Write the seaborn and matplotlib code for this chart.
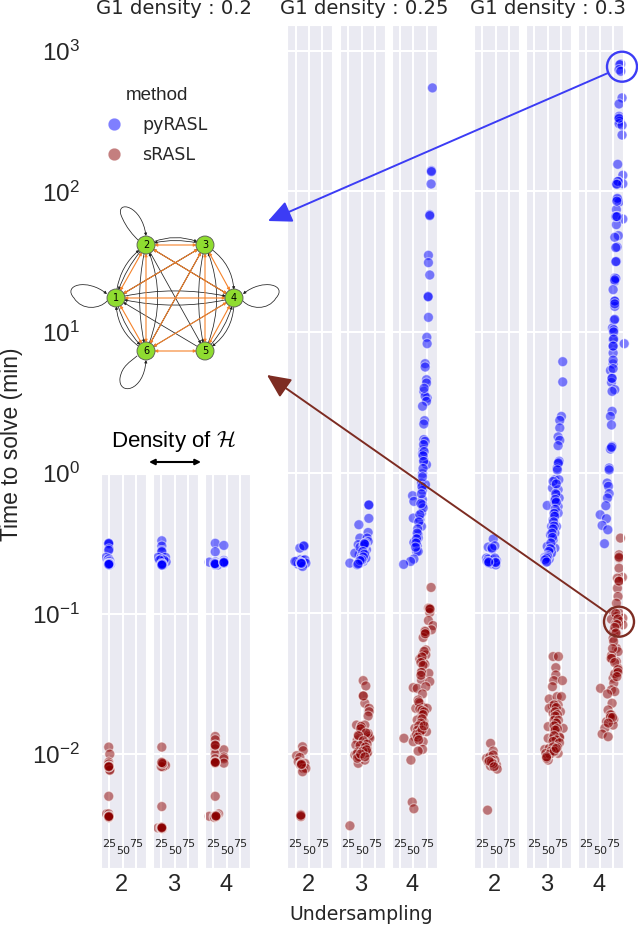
import numpy as np
import pandas as pd
import matplotlib
matplotlib.use("Agg")
import matplotlib.pyplot as plt
import seaborn as sns
from matplotlib.lines import Line2D
from matplotlib.patches import Circle, FancyArrowPatch
from matplotlib.path import Path

# density of H / log10(minutes), one pair of lists per group
a2_py_d = [24, 24, 24, 24.5, 24, 19, 22, 24, 26, 24, 24, 25, 25, 23, 27, 25, 24.5, 24.5, 25, 24]
a2_py_t = [-0.50, -0.505, -0.50, -0.54, -0.55, -0.60, -0.62, -0.61, -0.625, -0.63, -0.64, -0.645, -0.65, -0.65, -0.65, -0.655, -0.645, -0.65, -0.645, -0.65]
a2_sr_d = [24, 26, 24, 24, 25, 25, 26, 26, 24, 20, 24, 24.5, 24.5, 24, 24.5, 24.5, 24, 24.5, 24.5, 24]
a2_sr_t = [-1.95, -2.0, -2.057, -2.07, -2.088, -2.09, -2.11, -2.115, -2.30, -2.425, -2.425, -2.444, -2.45, -2.45, -2.09, -2.085, -2.09, -2.445, -2.44, -2.445]
a3_py_d = [26, 26, 26, 26, 19, 33, 25, 34, 27, 27, 28, 30, 22, 26, 26, 27, 26]
a3_py_t = [-0.482, -0.52, -0.553, -0.56, -0.60, -0.60, -0.612, -0.632, -0.645, -0.655, -0.655, -0.62, -0.62, -0.65, -0.645, -0.65, -0.655]
a3_sr_d = [26, 26, 31, 33, 28, 25, 26, 19, 26, 24, 27, 26, 26, 26, 27, 28, 26]
a3_sr_t = [-1.95, -2.057, -2.07, -2.08, -2.09, -2.088, -2.373, -2.525, -2.52, -2.525, -2.53, -2.525, -2.52, -2.525, -2.07, -2.065, -2.06]
a4_py_d = [28.7, 28.7, 28.7, 28.7, 28.7, 28.7, 44.7, 44.7, 44.7, 44.7, 17.6, 33, 27, 28.7, 28.7, 29, 28, 44.7, 44.7, 44.7]
a4_py_t = [-0.50, -0.56, -0.632, -0.644, -0.65, -0.655, -0.515, -0.622, -0.632, -0.64, -0.634, -0.655, -0.64, -0.65, -0.645, -0.65, -0.645, -0.635, -0.64, -0.635]
a4_sr_d = [28.7, 28.7, 28.7, 28.7, 28.7, 28.7, 28.7, 28.7, 28.7, 44.7, 44.7, 44.7, 44.7, 17.6, 35, 27, 27, 32, 28.7, 28.7, 28.7, 28.7, 28.7, 30, 30, 30]
a4_sr_t = [-1.874, -1.898, -1.938, -1.962, -1.998, -2.033, -2.057, -2.064, -2.30, -1.969, -2.021, -2.033, -2.064, -2.442, -2.425, -2.442, -2.45, -2.435, -2.06, -2.055, -2.06, -1.94, -1.935, -2.44, -2.445, -2.44]

b2_py_d = [40.4, 33, 26.9, 34.3, 39.2, 36.1, 42.3, 29.9, 36.1, 44.1, 34.3, 23.8, 38, 35, 35, 36, 40.4]
b2_py_t = [-0.524, -0.536, -0.631, -0.619, -0.624, -0.643, -0.619, -0.65, -0.655, -0.643, -0.637, -0.631, -0.667, -0.645, -0.64, -0.645, -0.52]
b2_sr_d = [38, 39.2, 26.9, 33, 29.9, 36.1, 42.3, 34.3, 39.2, 44.1, 38, 34.9, 34.9, 34.9, 36, 36, 34.9]
b2_sr_t = [-1.948, -1.976, -2.012, -2.024, -2.055, -2.066, -2.066, -2.078, -2.102, -2.102, -2.126, -2.43, -2.44, -2.445, -2.07, -2.075, -2.435]
b3_py_d = [63.3, 63.3, 44.7, 62, 46.6, 60.2, 55.9, 43.5, 62, 49.7, 59, 55.9, 49.7, 46.6, 51.5, 28, 41.7, 46.6, 52.8, 57.7, 45.4, 37.3, 47, 54, 50,
           63.3, 57, 56, 55, 52, 48, 51, 55, 46, 49, 44, 53, 50, 47, 43]
b3_py_t = [-0.228, -0.325, -0.37, -0.425, -0.465, -0.465, -0.505, -0.512, -0.489, -0.548, -0.548, -0.572, -0.60, -0.619, -0.614, -0.643, -0.655, -0.643, -0.631, -0.607, -0.584, -0.572, -0.53, -0.52, -0.59,
           -0.23, -0.5, -0.51, -0.505, -0.56, -0.61, -0.62, -0.58, -0.635, -0.63, -0.645, -0.6, -0.62, -0.625, -0.65]
b3_sr_d = [52.8, 57.7, 52.8, 55.9, 63.9, 63.9, 62, 40.4, 49.7, 55.9, 48.4, 55.9, 63.9, 41.7, 52.8, 65.1, 46.6, 60.2, 37.3, 42.3, 49.7, 59, 43.5, 55.9, 39.2, 52.8, 46.6, 62, 43.5, 28.1,
           53, 49, 48, 58, 44, 53, 60, 47, 57, 43, 41, 50, 54, 61, 45, 52, 59, 42, 48, 56]
b3_sr_t = [-1.478, -1.516, -1.587, -1.639, -1.675, -1.699, -1.73, -1.794, -1.80, -1.794, -1.841, -1.865, -1.876, -1.90, -1.912, -1.888, -1.96, -1.96, -2.007, -2.012, -1.995, -1.995, -2.066, -2.043, -1.936, -1.971, -2.019, -1.853, -1.865, -2.51,
           -1.587, -1.805, -1.82, -1.85, -1.87, -1.905, -1.93, -1.94, -1.95, -1.985, -2.0, -2.01, -2.0, -1.99, -2.02, -1.98, -1.97, -2.03, -2.0, -2.02]
b4_py_d = [85.5, 83.6, 83.6, 83, 80.5, 80.5, 78, 78, 80.5, 77.5, 77.5, 78, 75, 75.6, 71.9, 71.9, 74.4, 74.4, 69.4, 75.6, 71.9, 74.4, 67, 70.7, 69.4, 69.4, 71.9, 68.2, 67, 69.4, 74.4,
           67, 65, 72.5, 67, 48.4, 50.9, 67, 67, 65, 49.7, 62, 65, 58.9, 55.9, 50.9, 57, 55.9, 58.9, 50.9, 44.7, 31.8, 68.2, 62, 58.9,
           69, 70, 68, 69, 68, 67, 66, 65, 64, 60, 58, 57, 56, 55, 54, 70]
b4_py_t = [2.735, 2.147, 2.14, 2.052, 1.834, 1.827, 1.545, 1.493, 1.405, 1.254, 1.25, 1.104, 0.962, 0.917, 0.775, 0.751, 0.661, 0.637, 0.578, 0.531, 0.543, 0.507, 0.472, 0.37, 0.346, 0.235, 0.223, 0.164, 0.135, 0.092, 0.057,
           -0.007, -0.074, -0.085, -0.126, -0.164, -0.204, -0.192, -0.228, -0.287, -0.323, -0.335, -0.382, -0.441, -0.489, -0.496, -0.52, -0.56, -0.56, -0.614, -0.631, -0.652, -0.251, -0.299, -0.465,
           0.2, 0.15, 0.12, 0.08, 0.03, -0.03, -0.1, -0.15, -0.22, -0.35, -0.4, -0.43, -0.47, -0.5, -0.53, 0.6]
b4_sr_d = [83, 80.5, 78, 80.5, 78, 86.7, 83.6, 71.3, 73.1, 68.2, 73.1, 67, 73.1, 62, 68.2, 71.3, 65, 78.7, 65, 80.5, 49.7, 57.1, 73.1, 67, 58.9, 62, 54.6, 68.2, 75.6, 65, 57.1, 69.4, 52.8, 62, 74.4, 68.2, 52.8, 32.4, 49.7, 68.2, 67, 58.9, 45.4, 47.8, 50.9,
           80, 81, 72, 72, 70, 66, 64, 68, 65, 64, 60, 62, 66, 70, 68, 66, 64, 60, 58, 56, 62, 66, 70, 58, 60]
b4_sr_t = [-0.816, -0.963, -0.963, -0.994, -1.051, -1.087, -1.117, -1.125, -1.141, -1.172, -1.26, -1.295, -1.295, -1.324, -1.343, -1.362, -1.414, -1.426, -1.473, -1.485, -1.528, -1.533, -1.521, -1.573, -1.616, -1.639, -1.675, -1.668, -1.675, -1.722, -1.758, -1.77, -1.817, -1.841, -1.841, -1.782, -1.877, -1.888, -1.912, -1.912, -1.967, -1.979, -2.043, -2.342, -2.389,
           -0.965, -0.97, -1.13, -1.145, -1.27, -1.31, -1.35, -1.37, -1.42, -1.44, -1.63, -1.68, -1.69, -1.7, -1.72, -1.75, -1.78, -1.8, -1.83, -1.86, -1.85, -1.83, -1.8, -1.88, -1.9]

c2_py_d = [45.4, 36.1, 43.5, 48.4, 33, 37.3, 51.5, 45.4, 42.3, 36.1, 50.3, 34.3, 48.4, 43, 37, 50, 50, 37]
c2_py_t = [-0.472, -0.529, -0.543, -0.52, -0.607, -0.643, -0.624, -0.619, -0.648, -0.614, -0.655, -0.631, -0.607, -0.535, -0.64, -0.635, -0.64, -0.635]
c2_sr_d = [40.4, 45.4, 33, 39.2, 45.4, 36.1, 45.4, 51.5, 40.4, 52.8, 48.4, 42.3, 34.9, 45, 45, 42, 38, 47]
c2_sr_t = [-1.924, -1.979, -2.031, -2.019, -2.007, -2.055, -2.066, -2.078, -2.085, -2.107, -2.043, -2.043, -2.399, -2.065, -2.07, -2.06, -2.05, -2.09]
c3_py_d = [78, 78, 75.6, 72.5, 72.5, 69.4, 72.5, 69.4, 71.3, 69.4, 67.6,
           63.3, 70.7, 58.9, 69.4, 66.3, 71.3, 65.1, 69.4, 49.1, 63.3, 69.4, 60.2, 66.3, 57.1, 63.3, 55.2, 60.2, 49.1, 63.3, 57.1, 54, 49.1, 44.7, 49.1, 44.7, 52.8, 57.1, 63.3, 60.2,
           70, 68, 66, 65, 64, 66, 64, 62, 63, 61, 62, 60, 58, 59, 56, 55, 52, 50, 47, 46, 47, 50, 48, 45, 48]
c3_py_t = [0.789, 0.645, 0.40, 0.372, 0.318, 0.254, 0.23, 0.192, 0.081, 0.064, 0.033,
           -0.05, -0.05, -0.109, -0.121, -0.157, -0.18, -0.204, -0.24, -0.233, -0.287, -0.287, -0.335, -0.382, -0.382, -0.429, -0.441, -0.477, -0.524, -0.536, -0.548, -0.584, -0.607, -0.619, -0.631, -0.60, -0.614, -0.572, -0.204, -0.062,
           0.07, 0.02, -0.08, -0.15, -0.19, -0.21, -0.26, -0.29, -0.31, -0.35, -0.38, -0.4, -0.43, -0.46, -0.5, -0.54, -0.56, -0.59, -0.6, -0.615, -0.625, -0.6, -0.61, -0.62, -0.635]
c3_sr_d = [60.2, 70, 65.1, 65.1, 61.4, 77.4, 58.9, 52.8, 67.6, 75.6, 58.9, 52.8, 69.4, 73.7, 60.2, 65.1, 66.3, 50.9, 63.3, 78.7, 63.3, 50.9, 60.2, 72.5, 66.3, 44.7, 52.8, 69.4, 63.3, 47.8, 50.9, 57.1, 46.6,
           62, 66, 64, 68, 64, 62, 70, 66, 62, 68, 64, 72, 62, 66, 60, 72, 68, 64, 60, 56, 54, 48, 62, 66, 48]
c3_sr_t = [-1.307, -1.307, -1.386, -1.438, -1.478, -1.478, -1.521, -1.609, -1.592, -1.592, -1.658, -1.675, -1.651, -1.699, -1.711, -1.746, -1.782, -1.805, -1.817, -1.817, -1.841, -1.888, -1.888, -1.884, -1.936, -1.967, -1.96, -1.995, -1.983, -2.024, -2.043, -1.995, -1.995,
           -1.65, -1.67, -1.7, -1.72, -1.73, -1.76, -1.76, -1.78, -1.8, -1.82, -1.83, -1.88, -1.87, -1.9, -1.91, -1.92, -1.95, -1.97, -1.95, -1.98, -2.0, -2.03, -1.98, -1.96, -2.02]
c4_py_d = [89.2, 87.3, 86.1, 89.2, 91.6, 86.1, 86.1, 86.1, 87.3, 86.1, 91.6, 91.6, 83.6, 93, 84.2, 81.1, 93, 82.4, 86.1, 81.1, 82.4, 93, 81.1, 84.8, 78.1, 82.4, 81.1, 78.1, 78.1, 75, 78.1, 78.1, 76.8, 73.7, 76.1, 75, 75, 95.6, 75, 75, 70, 73.1, 71.9, 78.1, 73.1, 73.1, 70, 71.9, 73.1, 70, 67.6,
           67.6, 63.9, 66.3, 67.6, 64.5, 61.4, 50.9, 62.6, 54.6, 65.1, 58.9,
           86, 84, 82, 83, 82, 80, 82, 80, 80, 80, 78, 78, 78, 78, 76, 76, 75, 75, 75, 73, 72]
c4_py_t = [2.905, 2.9, 2.865, 2.853, 2.664, 2.621, 2.533, 2.514, 2.498, 2.481, 2.469, 2.40, 2.192, 2.114, 2.071, 2.054, 2.054, 1.941, 1.924, 1.87, 1.822, 1.803, 1.763, 1.685, 1.673, 1.604, 1.502, 1.384, 1.36, 1.301, 1.218, 1.182, 1.083, 1.028, 1.016, 0.945, 0.898, 0.917, 0.851, 0.773, 0.727, 0.673, 0.642, 0.59, 0.578, 0.436, 0.40, 0.339, 0.187, 0.168, 0.033,
           0.02, -0.074, -0.097, -0.149, -0.18, -0.235, -0.299, -0.327, -0.375, -0.406, -0.505,
           2.52, 2.07, 2.05, 1.95, 1.93, 1.82, 1.82, 1.6, 1.5, 1.38, 1.37, 1.22, 1.2, 1.09, 1.0, 0.95, 0.9, 0.8, 0.74, 0.67, 0.18]
c4_sr_d = [88.6, 86.1, 86.1, 86.1, 92.3, 83, 86.1, 83, 84.2, 81.1, 75, 86.1, 81.1, 93, 71.9, 87.3, 79.9, 93, 76.2, 81.1, 75, 81.1, 84.2, 70.7, 81.1, 84.2, 81.1, 75, 76.2, 51.5, 71.9, 78.1, 64.5, 73.1, 65.7, 70, 76.2, 62.6, 75, 59.6, 54.6, 65.7, 71.9,
           86, 86, 80, 84, 82, 78, 80, 76, 72, 72, 74, 78, 78, 84, 84, 82, 70, 70, 74, 66]
c4_sr_t = [-0.465, -0.584, -0.607, -0.679, -0.743, -0.75, -0.773, -0.821, -0.88, -0.928, -0.987, -0.999, -1.023, -1.034, -1.042, -1.058, -1.075, -1.082, -1.129, -1.141, -1.177, -1.248, -1.272, -1.319, -1.343, -1.39, -1.426, -1.461, -1.497, -1.533, -1.544, -1.556, -1.573, -1.639, -1.687, -1.73, -1.753, -1.77, -1.794, -1.817, -1.858, -1.877, -1.722,
           -0.6, -0.77, -1.0, -1.04, -1.08, -1.1, -1.14, -1.2, -1.3, -1.32, -1.25, -1.35, -1.43, -1.4, -1.42, -1.45, -1.72, -1.74, -1.74, -1.78]

groups = [
    (0.2, 2, "pyRASL", a2_py_d, a2_py_t), (0.2, 2, "sRASL", a2_sr_d, a2_sr_t),
    (0.2, 3, "pyRASL", a3_py_d, a3_py_t), (0.2, 3, "sRASL", a3_sr_d, a3_sr_t),
    (0.2, 4, "pyRASL", a4_py_d, a4_py_t), (0.2, 4, "sRASL", a4_sr_d, a4_sr_t),
    (0.25, 2, "pyRASL", b2_py_d, b2_py_t), (0.25, 2, "sRASL", b2_sr_d, b2_sr_t),
    (0.25, 3, "pyRASL", b3_py_d, b3_py_t), (0.25, 3, "sRASL", b3_sr_d, b3_sr_t),
    (0.25, 4, "pyRASL", b4_py_d, b4_py_t), (0.25, 4, "sRASL", b4_sr_d, b4_sr_t),
    (0.3, 2, "pyRASL", c2_py_d, c2_py_t), (0.3, 2, "sRASL", c2_sr_d, c2_sr_t),
    (0.3, 3, "pyRASL", c3_py_d, c3_py_t), (0.3, 3, "sRASL", c3_sr_d, c3_sr_t),
    (0.3, 4, "pyRASL", c4_py_d, c4_py_t), (0.3, 4, "sRASL", c4_sr_d, c4_sr_t),
]
rows = []
for g1, u, m, d, t in groups:
    rows.append(pd.DataFrame({"g1": g1, "u": u, "method": m, "density": d, "time": 10.0 ** np.array(t)}))
df = pd.concat(rows, ignore_index=True)

palette = {"pyRASL": "#0000ff", "sRASL": "#8b0000"}
BLUE_ARROW = "#3c3cf5"
RED_ARROW = "#7d2c22"

sns.set_style("darkgrid")
plt.rcParams["font.family"] = ["Liberation Sans", "DejaVu Sans"]
plt.rcParams["mathtext.default"] = "regular"
plt.rcParams["grid.linewidth"] = 1.5

W, H = 638, 926
fig = plt.figure(figsize=(W / 100, H / 100), dpi=100)


def box(left, top, right, bottom):
    return [left / W, 1 - bottom / H, (right - left) / W, (bottom - top) / H]


# left pixel edge of each small axes
lefts = {0.2: [101, 153, 205], 0.25: [287.3, 340, 391.7], 0.3: [474, 526, 578]}
YMIN = 10 ** -2.808
YTOP = 10 ** 3.18

# full height frame, only for the y axis labels
frame = fig.add_axes(box(101, 25.3, 623, 867.7))
frame.set_facecolor("none")
frame.set_yscale("log")
frame.set_yticks([10.0 ** k for k in range(-2, 4)])
frame.set_ylim(YMIN, YTOP)
frame.set_xticks([])
frame.minorticks_off()
frame.grid(False)
frame.tick_params(axis="y", length=0, pad=15, labelsize=17.5, labelcolor=".15")

for g1, edges in lefts.items():
    for u, x0 in zip([2, 3, 4], edges):
        top = 474 if g1 == 0.2 else 25.3
        ax = fig.add_axes(box(x0, top, x0 + 45, 867.7))
        sub = df[(df.g1 == g1) & (df.u == u)]
        sns.scatterplot(data=sub, x="density", y="time", hue="method", palette=palette,
                        s=52, alpha=0.5, edgecolor="white", linewidth=0.8,
                        legend=False, clip_on=False, ax=ax)
        ax.set_yscale("log")
        ticks = range(-2, 0) if g1 == 0.2 else range(-2, 4)
        ax.set_yticks([10.0 ** k for k in ticks])
        ax.set_yticklabels([])
        ax.minorticks_off()
        ax.set_ylim(YMIN, 10 ** -0.007 if g1 == 0.2 else YTOP)
        ax.set_xlim(9.6, 93.4)
        ax.set_xticks([25, 50, 75])
        ax.set_xticklabels([])
        ax.tick_params(length=0)
        ax.set_ylabel("")
        ax.set_xlabel(str(u), fontsize=17, color=".15")
        ax.xaxis.set_label_coords(0.46, -0.007 * 842 / (867.7 - top))
        ax.xaxis.label.set_verticalalignment("top")
        ax.text(25, 10 ** -2.637, "25", family="DejaVu Sans", fontsize=8, color=".15", ha="center", va="center")
        ax.text(50, 10 ** -2.687, "50", family="DejaVu Sans", fontsize=8, color=".15", ha="center", va="center")
        ax.text(75, 10 ** -2.637, "75", family="DejaVu Sans", fontsize=8, color=".15", ha="center", va="center")

# everything annotated on top, in pixel coordinates
over = fig.add_axes([0, 0, 1, 1], zorder=10)
over.set_xlim(0, W)
over.set_ylim(H, 0)
over.axis("off")

for txt, cx in [("G1 density : 0.2", 174), ("G1 density : 0.25", 364), ("G1 density : 0.3", 548)]:
    over.text(cx, 9, txt, family="DejaVu Sans", fontsize=14.1, color=".15", ha="center", va="center")
over.text(361, 914, "Undersampling", family="DejaVu Sans", fontsize=13.6, color=".15", ha="center", va="center")
over.text(12, 444, "Time to solve (min)", fontsize=16.5, color=".15", rotation=90, ha="center", va="center")
over.text(173, 442, r"Density of $\mathcal{H}$", fontsize=16, color="black", ha="center", va="center", math_fontfamily="cm")
over.annotate("", xy=(149, 462), xytext=(201, 462),
              arrowprops=dict(arrowstyle="<|-|>", color="black", lw=1.5, mutation_scale=8, shrinkA=0, shrinkB=0))

# legend
handles = [Line2D([], [], ls="", marker="o", ms=9, mfc=palette[m], mec="white", mew=0.3, alpha=0.5, label=m)
           for m in ["pyRASL", "sRASL"]]
leg = over.legend(handles=handles, title="method", loc="upper left", bbox_to_anchor=(91, 71),
                  bbox_transform=over.transData, frameon=False, prop={"family": "DejaVu Sans", "size": 12.5},
                  title_fontsize=13.5, labelspacing=0.7, handlelength=0.8, handletextpad=1.25)
leg.get_title().set_color(".15")

# circled outliers and arrows to the graph
over.add_patch(Circle((622, 66.7), 15, fill=False, ec=BLUE_ARROW, lw=1.7, clip_on=False))
over.add_patch(Circle((619, 621.7), 15, fill=False, ec=RED_ARROW, lw=1.7, clip_on=False))
over.annotate("", xy=(268, 221), xytext=(608, 73),
              arrowprops=dict(arrowstyle="-|>,head_length=0.9,head_width=0.42", fc=BLUE_ARROW, ec=BLUE_ARROW, lw=1.4,
                              mutation_scale=16, shrinkA=0, shrinkB=0))
over.annotate("", xy=(267, 375), xytext=(606, 612),
              arrowprops=dict(arrowstyle="-|>,head_length=0.9,head_width=0.42", fc=RED_ARROW, ec=RED_ARROW, lw=1.4,
                              mutation_scale=16, shrinkA=0, shrinkB=0))
over.plot([275, 284], [217, 216], color="white", lw=0.7, ls=(0, (2, 1)))
over.plot([275, 283], [380, 386], color="white", lw=0.7, ls=(0, (2, 1)))

# the small graph
nodes = {1: (116, 298), 2: (146, 245), 3: (205, 245), 4: (234, 298), 5: (205, 351), 6: (146, 351)}
black_arcs = [(1, 2, -0.25), (2, 3, -0.25), (3, 4, -0.3), (4, 5, -0.3), (6, 1, -0.3), (3, 2, 0.15),
              (1, 4, -0.12), (4, 1, -0.12), (2, 6, 0.12), (6, 2, 0.22), (3, 5, 0.12), (5, 3, 0.22),
              (2, 1, 0.12), (1, 6, 0.15), (5, 4, 0.15)]
black_lines = [(2, 5), (3, 1), (1, 3), (4, 2), (3, 6), (5, 1), (4, 6), (2, 4), (6, 3)]
orange_lines = [(1, 2), (2, 3), (1, 3), (2, 4), (2, 6), (3, 5), (3, 6), (3, 4), (4, 5), (4, 6), (1, 4), (1, 6), (5, 6)]
for a, b, rad in black_arcs:
    over.add_patch(FancyArrowPatch(nodes[a], nodes[b], connectionstyle=f"arc3,rad={rad}", arrowstyle="-|>",
                                   mutation_scale=4, lw=0.55, color="#222222", shrinkA=6, shrinkB=6))
for a, b in black_lines:
    over.add_patch(FancyArrowPatch(nodes[a], nodes[b], arrowstyle="-|>", mutation_scale=4, lw=0.55,
                                   color="#222222", shrinkA=6, shrinkB=6))
for a, b in orange_lines:
    over.add_patch(FancyArrowPatch(nodes[a], nodes[b], arrowstyle="<|-|>", mutation_scale=4, lw=0.8,
                                   color="#f5822a", shrinkA=6, shrinkB=6, zorder=3))
loops = [((107, 294), (87, 278), (62, 285), (74, 298), (82, 311), (100, 309), (107, 301)),
         ((146, 236), (142, 205), (116, 200), (121, 215), (126, 228), (134, 236), (138, 240)),
         ((243, 294), (263, 278), (288, 285), (276, 298), (268, 311), (250, 309), (243, 301)),
         ((146, 360), (144, 392), (118, 396), (120, 378), (122, 366), (130, 362), (137, 356))]
for p in loops:
    verts = list(p)[::-1]
    codes = [Path.MOVETO] + [Path.CURVE4] * 6
    over.add_patch(FancyArrowPatch(path=Path(verts, codes), arrowstyle="-|>", mutation_scale=4, lw=0.55,
                                   color="#222222", shrinkA=0, shrinkB=0))
for k, (nx, ny) in nodes.items():
    over.add_patch(Circle((nx, ny), 9, fc="#8fdc30", ec="#555555", lw=0.6, zorder=5))
    over.text(nx, ny, str(k), family="DejaVu Sans", fontsize=7, color="black", ha="center", va="center", zorder=6)

fig.savefig("out.png", dpi=100)
